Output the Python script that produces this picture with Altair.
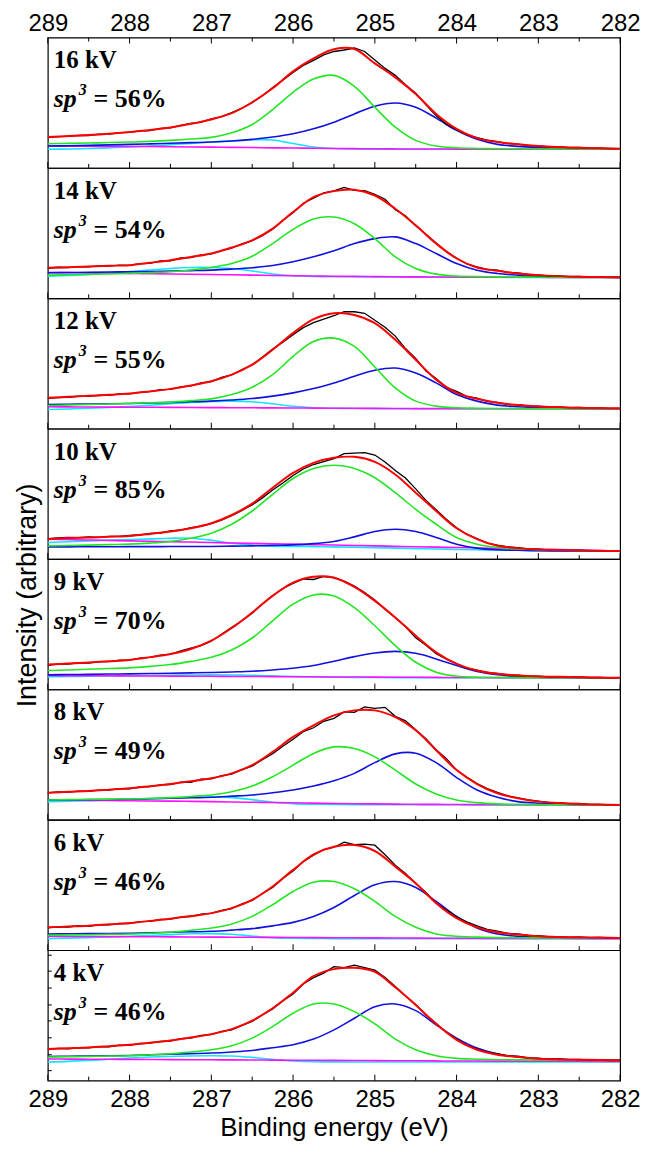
import altair as alt
import pandas as pd

E_FIT = [289.0, 288.75, 288.5, 288.25, 288.0, 287.75, 287.5, 287.25, 287.0, 286.75,
         286.5, 286.25, 286.0, 285.75, 285.5, 285.25, 285.0, 284.75, 284.5, 284.25,
         284.0, 283.75, 283.5, 283.25, 283.0, 282.75, 282.5, 282.25, 282.0]

E_RAW = [289.0, 288.875, 288.75, 288.625, 288.5, 288.375, 288.25, 288.125,
         288.0, 287.875, 287.75, 287.625, 287.5, 287.375, 287.25, 287.125,
         287.0, 286.875, 286.75, 286.625, 286.5, 286.375, 286.25, 286.125,
         286.0, 285.875, 285.75, 285.625, 285.5, 285.375, 285.25, 285.125,
         285.0, 284.875, 284.75, 284.625, 284.5, 284.375, 284.25, 284.125,
         284.0, 283.875, 283.75, 283.625, 283.5, 283.375, 283.25, 283.125,
         283.0, 282.875, 282.75, 282.625, 282.5, 282.375, 282.25, 282.125, 282.0]

VOLTAGES = ["16 kV", "14 kV", "12 kV", "10 kV", "9 kV", "8 kV", "6 kV", "4 kV"]
SP3_SHARES = ["56%", "54%", "55%", "85%", "70%", "49%", "46%", "46%"]
X_LABEL_VALUES = [289, 288, 287, 286, 285, 284, 283, 282]
X_MINOR_VALUES = [288.5, 287.5, 286.5, 285.5, 284.5, 283.5, 282.5]
Y_TICKS_4KV = [10, 26, 43, 60, 76, 93, 110, 126]

# 16 kV
RAW_16 = [30.5, 31.5, 31.8, 32.8, 32.6, 33.9, 34.0, 35.4,
          35.8, 37.3, 37.6, 39.8, 40.2, 42.8, 44.8, 46.0,
          49.2, 51.5, 55.5, 60.0, 65.5, 72.5, 80.8, 88.0,
          96.0, 103.0, 108.0, 113.5, 117.0, 118.5, 120.5, 117.0,
          108.5, 100.0, 93.0, 83.5, 75.0, 63.5, 52.5, 44.0,
          38.5, 33.5, 30.5, 28.0, 26.5, 24.5, 24.0, 22.5,
          22.3, 21.2, 21.3, 20.4, 20.6, 19.8, 19.9, 19.3, 19.5]
FIT_16 = [31, 32, 33, 34.3, 36, 38, 40.7, 44.3, 48.7, 55, 66, 80, 97, 110, 119.3,
          119.5, 105, 91, 74.3, 54.3, 39.3, 30, 26, 23.7, 22, 21, 20.3, 19.7, 19.3]
SP3_16 = [24.3, 24.7, 25, 25.5, 26, 26.7, 27.7, 29, 30.7, 35.3, 43.7, 58.7, 76, 89.3, 93,
          82, 61, 41, 27.7, 22, 20.2, 19.6, 19.3, 19.2, 19.1, 19, 19, 19, 19]
SP2_16 = [22, 22.3, 22.7, 23.2, 23.7, 24.2, 24.8, 25.4, 26, 27, 28.7, 31, 34.3, 39.3, 46,
          54.3, 62, 65.3, 61, 50, 37.7, 28.7, 23.7, 21.7, 20.7, 20.2, 19.7, 19.5, 19.3]
CO_16 = [18.7, 19, 19.5, 20.2, 21, 22, 23.3, 24.7, 26, 27.3, 28.3, 28, 24.5, 21, 19.5,
         19, 18.9, 18.9, 18.8, 18.8, 18.8, 18.7, 18.7, 18.7, 18.7, 18.7, 18.7, 18.7, 18.7]
BG_16 = [22, 21.9, 21.8, 21.7, 21.6, 21.5, 21.3, 21.1, 20.9, 20.7, 20.5, 20.2, 20, 19.8, 19.6,
         19.4, 19.2, 19.1, 19, 19, 18.9, 18.9, 18.8, 18.8, 18.8, 18.7, 18.7, 18.7, 18.7]

# 14 kV
RAW_14 = [30.2, 31.2, 30.9, 31.9, 31.6, 32.6, 32.3, 33.4,
          33.2, 34.8, 35.2, 37.5, 37.6, 40.5, 40.8, 43.7,
          44.6, 48.0, 50.4, 54.8, 58.0, 63.0, 69.5, 78.5,
          86.0, 95.5, 100.5, 106.0, 108.0, 111.5, 108.5, 108.3,
          104.5, 99.5, 89.0, 83.0, 73.0, 64.5, 55.5, 47.0,
          40.5, 34.5, 31.5, 29.0, 28.2, 26.0, 25.5, 24.0,
          23.6, 22.5, 22.6, 21.8, 21.9, 21.3, 21.5, 21.0, 21.2]
FIT_14 = [30.7, 31.3, 32, 32.7, 33.3, 35.7, 38.3, 41.5, 45, 51, 58.3, 70, 86.7, 101.7, 107.7,
          109, 103.3, 90, 73.3, 55, 40, 31, 27.7, 25, 23.3, 22.3, 21.7, 21.3, 21]
SP3_14 = [23.3, 23.7, 24.1, 24.5, 25, 25.8, 26.7, 28.5, 31, 35, 42.3, 55, 69.3, 79.7, 81.7,
          75, 60, 41.7, 30, 24.3, 22.3, 21.8, 21.5, 21.3, 21.2, 21.1, 21, 21, 21]
SP2_14 = [25.7, 25.9, 26.1, 26.4, 26.7, 27, 27.4, 27.8, 28.3, 29.3, 30.7, 33, 36.7, 41.7, 47.7,
          55, 60, 61.7, 55, 45, 35, 28.3, 25, 23.3, 22.3, 22, 21.7, 21.3, 21]
CO_14 = [22.3, 23, 24, 25.5, 27, 28.5, 30, 31, 31, 30, 27.5, 24.5, 22.7, 22, 21.7,
         21.6, 21.5, 21.4, 21.3, 21.2, 21.2, 21.1, 21.1, 21, 21, 21, 21, 21, 21]
BG_14 = [26, 25.8, 25.6, 25.4, 25.1, 24.8, 24.5, 24.2, 23.9, 23.6, 23.3, 23, 22.7, 22.4, 22.2,
         22, 21.8, 21.6, 21.5, 21.4, 21.3, 21.2, 21.2, 21.1, 21.1, 21, 21, 21, 21]

# 12 kV
RAW_12 = [30.5, 31.3, 31.6, 32.6, 32.4, 33.6, 33.5, 34.9,
          35.0, 36.6, 37.2, 39.2, 39.5, 42.0, 43.0, 46.0,
          47.2, 51.5, 54.0, 59.5, 64.0, 72.0, 80.0, 87.0,
          94.5, 101.5, 106.5, 110.0, 113.5, 117.5, 117.5, 116.0,
          109.0, 102.0, 93.0, 80.5, 70.5, 58.0, 50.5, 41.5,
          37.5, 32.5, 30.8, 27.5, 26.5, 24.5, 24.2, 22.8,
          22.7, 21.9, 22.0, 21.2, 21.3, 20.7, 21.0, 20.4, 20.6]
FIT_12 = [31, 32, 33, 34, 35.3, 37.5, 40, 43.5, 47.7, 54.3, 64.3, 79.3, 96, 110, 116,
          114.3, 106, 89.3, 69.3, 49.3, 36, 30, 26, 23.7, 22.3, 21.7, 21, 20.7, 20.3]
SP3_12 = [23.3, 23.8, 24.3, 24.8, 25.3, 26, 26.7, 28.2, 30, 34.3, 41.7, 54.3, 72.7, 87.7, 91,
          82.7, 62, 41, 27.7, 22.7, 21, 20.6, 20.3, 20.2, 20.1, 20, 20, 20, 20]
SP2_12 = [24.3, 24.5, 24.8, 25, 25.3, 25.8, 26.3, 27, 27.7, 28.8, 30.3, 32.7, 36, 40.3, 46,
          52.7, 58.7, 61, 56, 46, 34.3, 27.7, 23.7, 22, 21, 20.6, 20.3, 20.1, 20]
CO_12 = [19.3, 19.8, 20.5, 21.3, 22.3, 23.5, 25, 26.3, 27.3, 27.7, 27, 25, 22.5, 21, 20.5,
         20.3, 20.2, 20.1, 20, 20, 20, 20, 20, 20, 20, 20, 20, 20, 20]
BG_12 = [22, 21.9, 21.8, 21.7, 21.6, 21.5, 21.4, 21.3, 21.2, 21.1, 21, 20.9, 20.8, 20.7, 20.6,
         20.5, 20.4, 20.3, 20.2, 20.2, 20.1, 20.1, 20, 20, 20, 20, 20, 20, 20]

# 10 kV
RAW_10 = [20.5, 21.2, 21.8, 21.5, 22.2, 21.9, 22.8, 22.8,
          23.8, 24.2, 25.8, 26.2, 28.3, 29.2, 31.5, 33.2,
          35.5, 39.0, 43.5, 49.0, 54.5, 61.5, 69.5, 76.5,
          84.0, 90.5, 95.0, 98.0, 101.0, 106.0, 106.5, 107.0,
          104.5, 97.5, 89.0, 81.5, 70.5, 59.0, 49.5, 40.0,
          31.5, 25.0, 20.5, 16.0, 14.0, 12.3, 11.5, 10.3,
          10.0, 9.3, 9.4, 8.8, 8.9, 8.4, 8.5, 8.1, 8.2]
FIT_10 = [20, 21.3, 21.7, 22.5, 23.3, 25.3, 27.7, 31, 36, 44.3, 55.7, 71.7, 86.7, 96.7, 101.7,
          102.7, 97.7, 85, 66.7, 48.3, 31, 20, 13.3, 11, 9.7, 9.2, 8.7, 8.3, 8]
SP3_10 = [13.3, 13.6, 14, 14.5, 15, 16, 17.7, 21, 26, 35, 48.3, 65, 81, 91, 94.3,
          91, 81.7, 66.7, 50, 35, 21.7, 15, 11.7, 10.3, 9.5, 9, 8.6, 8.3, 8]
SP2_10 = [12.3, 12.3, 12.4, 12.4, 12.5, 12.5, 12.6, 12.6, 12.7, 13, 13.3, 13.8, 14.3, 15.5, 17.7,
          22.3, 27.7, 30, 27.7, 21.7, 15, 11, 9.3, 8.8, 8.3, 8.2, 8.1, 8, 8]
CO_10 = [16.7, 17.5, 18.3, 19, 19.7, 20.3, 21, 21, 19, 16, 14, 13, 12.7, 12.5, 12.3,
         11.9, 11.5, 11, 10.5, 10.1, 9.7, 9.3, 9, 8.8, 8.5, 8.3, 8.2, 8.1, 8]
BG_10 = [20, 19.6, 19.2, 18.7, 18.3, 17.9, 17.5, 17.1, 16.6, 16.2, 15.8, 15.4, 15, 14.5, 14.1,
         13.7, 13.3, 12.8, 12.4, 12, 11.6, 11.2, 10.7, 10.3, 9.9, 9.5, 9.1, 8.6, 8.2]

# 9 kV
RAW_9 = [24.3, 25.5, 25.6, 26.8, 26.6, 28.0, 28.0, 29.5,
         29.5, 31.5, 32.2, 34.5, 35.3, 38.8, 41.5, 44.0,
         48.5, 55.5, 62.5, 69.0, 76.5, 86.0, 94.5, 101.5,
         106.5, 111.0, 110.5, 113.5, 112.5, 109.0, 104.0, 97.5,
         90.0, 80.5, 72.0, 63.0, 52.0, 44.5, 36.0, 30.5,
         26.0, 21.5, 19.5, 17.0, 16.2, 14.6, 14.4, 13.3,
         13.3, 12.6, 12.9, 12.2, 12.5, 11.9, 12.2, 11.6, 11.9]
FIT_9 = [25, 26, 27, 28.3, 29.7, 32.5, 35.7, 40.7, 49, 61.7, 77.3, 94, 107.3, 113.3, 112.3,
         103, 89, 72.3, 54, 37.3, 25.7, 19, 15.7, 14, 13, 12.7, 12.3, 12, 11.7]
SP3_9 = [19, 19.6, 20.3, 21, 21.7, 23.2, 25, 28.2, 32.3, 39.7, 51.7, 69, 85.7, 95, 94,
         82.3, 64, 44, 27.3, 17.3, 13.3, 12.3, 12, 11.9, 11.8, 11.8, 11.7, 11.7, 11.7]
SP2_9 = [14.7, 15, 15.2, 15.5, 15.7, 16, 16.3, 16.7, 17, 17.6, 18.3, 19.6, 21.3, 24, 28.3,
         33, 36.7, 38.3, 36.3, 30.7, 24, 18, 14.7, 13, 12.3, 12, 11.9, 11.8, 11.7]
CO_9 = [12.7, 13, 13.2, 13.5, 13.7, 14, 14.3, 14.5, 14.7, 14.6, 14.3, 13.7, 13, 12.6, 12.3,
        12.1, 12, 11.9, 11.9, 11.8, 11.8, 11.8, 11.7, 11.7, 11.7, 11.7, 11.7, 11.7, 11.7]
BG_9 = [14, 13.9, 13.8, 13.7, 13.6, 13.5, 13.4, 13.3, 13.2, 13.1, 13, 12.9, 12.8, 12.7, 12.6,
        12.5, 12.4, 12.3, 12.2, 12.1, 12, 12, 11.9, 11.9, 11.8, 11.8, 11.7, 11.7, 11.7]

# 8 kV
RAW_8 = [27.0, 28.0, 27.8, 28.9, 28.6, 29.9, 29.8, 31.3,
         31.2, 33.0, 33.3, 35.2, 35.4, 37.8, 37.6, 40.8,
         41.2, 44.5, 46.0, 50.5, 54.0, 60.5, 66.5, 74.0,
         81.0, 88.5, 92.5, 99.0, 102.0, 108.5, 108.0, 113.5,
         112.0, 113.0, 104.0, 99.5, 90.5, 81.5, 70.5, 61.5,
         50.0, 43.0, 36.5, 31.5, 27.5, 24.0, 22.0, 20.0,
         18.8, 17.5, 17.4, 16.3, 16.4, 15.5, 15.6, 15.0, 15.2]
FIT_8 = [27.3, 28.2, 29, 30.3, 31.7, 33.8, 36, 38.7, 41.7, 46.7, 55, 68.3, 83.3, 95, 105,
         110, 110, 103.3, 90, 70, 50, 36, 26.7, 21.7, 18.3, 17, 16, 15.3, 15]
SP3_8 = [20, 20.3, 20.5, 20.8, 21, 21.6, 22.3, 23.5, 25, 28.3, 34, 43.3, 55, 66.7, 73.3,
         71.7, 63.3, 50, 36, 26, 20, 17.3, 16, 15.6, 15.3, 15.2, 15.1, 15, 15]
SP2_8 = [20, 20.2, 20.3, 20.5, 20.7, 21.2, 21.7, 22.2, 22.7, 23.8, 25, 27.2, 30, 34, 39.3,
         46.7, 57.5, 66.3, 67, 57.5, 42.5, 30, 22.7, 18.3, 16.7, 16, 15.3, 15.1, 15]
CO_8 = [18.3, 18.8, 19.3, 19.9, 20.5, 21.2, 22, 22.7, 23, 22.3, 20.3, 17.7, 16.3, 15.7, 15.4,
        15.3, 15.2, 15.2, 15.1, 15.1, 15.1, 15, 15, 15, 15, 15, 15, 15, 15]
BG_8 = [20, 19.8, 19.6, 19.4, 19.2, 19, 18.8, 18.6, 18.3, 18, 17.7, 17.4, 17.1, 16.8, 16.5,
        16.2, 16, 15.8, 15.6, 15.5, 15.4, 15.3, 15.2, 15.2, 15.1, 15.1, 15, 15, 15]

# 6 kV
RAW_6 = [22.5, 23.5, 23.3, 24.6, 24.0, 25.6, 25.5, 27.0,
         26.8, 28.8, 29.0, 31.0, 31.2, 33.3, 33.8, 36.3,
         37.0, 40.0, 41.8, 46.5, 50.0, 57.0, 63.0, 72.0,
         79.5, 89.0, 95.5, 101.0, 103.5, 108.5, 106.0, 106.5,
         105.5, 96.0, 85.5, 77.0, 67.0, 58.0, 47.5, 40.5,
         33.5, 28.5, 24.5, 21.0, 19.2, 17.0, 16.5, 14.8,
         14.6, 13.6, 13.7, 13.0, 13.2, 12.6, 12.9, 12.3, 12.5]
FIT_6 = [23, 23.8, 24.7, 26, 27.3, 29.5, 31.7, 34.3, 37.3, 42.3, 50.7, 64, 80.7, 96.3, 104,
         105.7, 99.7, 84, 67.3, 47.3, 32.3, 23, 18, 15.7, 14, 13.3, 13, 12.7, 12.3]
SP3_6 = [15, 15.3, 15.6, 16, 16.3, 17.1, 18, 20, 22.3, 26.3, 34, 45.7, 59, 68.3, 69,
         61.7, 49, 34, 23, 16.3, 14, 13.2, 12.7, 12.5, 12.4, 12.3, 12.3, 12.3, 12.3]
SP2_6 = [16.3, 16.5, 16.7, 16.8, 17, 17.5, 18, 18.5, 19, 20.2, 21.7, 24.5, 28, 34, 43,
         55, 65.7, 69, 63, 49, 34, 22.3, 16.3, 14, 13, 12.8, 12.7, 12.5, 12.3]
CO_6 = [11.7, 12.2, 12.7, 13.3, 14, 14.8, 15.7, 16.5, 16.7, 16, 14.3, 12.7, 12, 11.8, 11.7,
        11.7, 11.7, 11.7, 11.7, 11.7, 11.7, 11.7, 11.7, 11.7, 11.7, 11.7, 11.7, 11.7, 11.7]
BG_6 = [14, 13.9, 13.8, 13.7, 13.6, 13.5, 13.4, 13.3, 13.2, 13.1, 13, 12.9, 12.8, 12.7, 12.6,
        12.5, 12.4, 12.3, 12.2, 12.1, 12, 12, 11.9, 11.9, 11.8, 11.8, 11.7, 11.7, 11.7]

# 4 kV
RAW_4 = [31.2, 32.3, 32.0, 33.2, 32.8, 34.2, 34.0, 35.6,
         35.5, 37.3, 37.6, 39.5, 39.8, 42.2, 42.8, 45.5,
         46.2, 49.5, 51.0, 55.5, 59.5, 66.0, 72.0, 80.0,
         87.0, 97.0, 103.5, 108.0, 114.5, 113.5, 116.0, 113.5,
         111.0, 103.5, 94.5, 85.0, 76.5, 66.0, 57.5, 48.5,
         42.0, 35.5, 32.0, 28.5, 27.0, 24.8, 24.5, 22.8,
         22.6, 21.5, 21.7, 21.0, 21.2, 20.6, 20.9, 20.2, 20.5]
FIT_4 = [31.7, 32.5, 33.3, 34.6, 36, 38, 40.3, 43.3, 46.7, 51.7, 60.3, 72.7, 88.3, 105, 112,
         113.3, 109.3, 93.7, 76, 57, 41, 31, 26, 23.7, 22, 21.3, 21, 20.7, 20.3]
SP3_4 = [23.7, 24, 24.3, 24.7, 25, 26, 27, 28.8, 31, 35, 42.7, 54.3, 67.7, 77, 77,
         69.3, 57, 41.7, 31, 25, 22.3, 21.5, 21, 20.8, 20.6, 20.5, 20.4, 20.3, 20.3]
SP2_4 = [24.3, 24.5, 24.8, 25, 25.3, 25.9, 26.5, 27.1, 27.7, 28.8, 30.3, 33, 36, 41.7, 51,
         62.7, 74.3, 77, 70.3, 56, 42.7, 32.7, 26.7, 23.7, 22, 21.5, 21, 20.7, 20.3]
CO_4 = [18.7, 19.3, 20.3, 21.5, 22.7, 23.7, 24.3, 24.8, 25, 24.7, 23.3, 21.3, 19.7, 19, 18.8,
        18.7, 18.7, 18.7, 18.7, 18.7, 18.7, 18.7, 18.7, 18.7, 18.7, 18.7, 18.7, 18.7, 18.7]
BG_4 = [21.7, 21.6, 21.5, 21.4, 21.3, 21.2, 21.1, 21, 20.9, 20.8, 20.7, 20.6, 20.5, 20.4, 20.3,
        20.2, 20.1, 20, 19.9, 19.8, 19.7, 19.7, 19.6, 19.5, 19.5, 19.4, 19.4, 19.3, 19.3]

SERIES = [
    (RAW_16, FIT_16, SP3_16, SP2_16, CO_16, BG_16),
    (RAW_14, FIT_14, SP3_14, SP2_14, CO_14, BG_14),
    (RAW_12, FIT_12, SP3_12, SP2_12, CO_12, BG_12),
    (RAW_10, FIT_10, SP3_10, SP2_10, CO_10, BG_10),
    (RAW_9, FIT_9, SP3_9, SP2_9, CO_9, BG_9),
    (RAW_8, FIT_8, SP3_8, SP2_8, CO_8, BG_8),
    (RAW_6, FIT_6, SP3_6, SP2_6, CO_6, BG_6),
    (RAW_4, FIT_4, SP3_4, SP2_4, CO_4, BG_4),
]

# ---------------- styling ----------------
W, H = 575, 131
SANS = "Liberation Sans"
SERIF = "Liberation Serif"
COL = {"CO": "#10e4ff", "BG": "#ff10ff", "SP2": "#1010e0", "SP3": "#22e622",
       "RAW": "#000000", "FIT": "#ff0000"}

x_scale = alt.Scale(domain=[282, 289], reverse=True, nice=False, zero=False)
y_scale = alt.Scale(domain=[0, H], nice=False, zero=False)


def x_axis_for(i):
    common = dict(values=X_LABEL_VALUES, format="d", labelFont=SANS, labelFontSize=24,
                  labelColor="black", labelFlush=False, ticks=False, tickSize=0,
                  domain=False, grid=False)
    if i == 0:
        return alt.Axis(orient="top", title=None, labelPadding=2, **common)
    if i == len(VOLTAGES) - 1:
        return alt.Axis(orient="bottom", title="Binding energy (eV)", titleFont=SANS,
                        titleFontSize=26, titleFontWeight="normal", titleColor="black",
                        titlePadding=3, labelPadding=7, **common)
    return None


def y_axis_for(i):
    if i == 4:
        return alt.Axis(labels=False, ticks=False, tickSize=0, domain=False, grid=False,
                        title="Intensity (arbitrary)", titleFont=SANS, titleFontSize=27,
                        titleFontWeight="normal", titleColor="black", titleAngle=270,
                        titleAlign="center", titleBaseline="middle", titleX=-20, titleY=36)
    return None


def panel(i):
    raw, fit, sp3, sp2, co, bg = SERIES[i]
    xe = alt.X("E:Q", scale=x_scale, axis=x_axis_for(i))
    ye = alt.Y("I:Q", scale=y_scale, axis=y_axis_for(i))
    layers = []
    for key, vals in [("CO", co), ("BG", bg), ("SP2", sp2), ("SP3", sp3)]:
        df = pd.DataFrame({"E": E_FIT, "I": vals})
        layers.append(alt.Chart(df).mark_line(color=COL[key], strokeWidth=1.6,
                                              interpolate="catmull-rom").encode(x=xe, y=ye))
    layers.append(alt.Chart(pd.DataFrame({"E": E_RAW, "I": raw}))
                  .mark_line(color=COL["RAW"], strokeWidth=1.3).encode(x=xe, y=ye))
    layers.append(alt.Chart(pd.DataFrame({"E": E_FIT, "I": fit}))
                  .mark_line(color=COL["FIT"], strokeWidth=2, interpolate="catmull-rom")
                  .encode(x=xe, y=ye))
    # inward ticks on the bottom border
    major = pd.DataFrame({"E": X_LABEL_VALUES})
    minor = pd.DataFrame({"E": X_MINOR_VALUES})
    layers.append(alt.Chart(major).mark_rule(color="black", strokeWidth=1)
                  .encode(x=xe, y=alt.value(H), y2=alt.value(H - 6)))
    layers.append(alt.Chart(minor).mark_rule(color="black", strokeWidth=1)
                  .encode(x=xe, y=alt.value(H), y2=alt.value(H - 4)))
    if i == 0:
        layers.append(alt.Chart(major).mark_rule(color="black", strokeWidth=1)
                      .encode(x=xe, y=alt.value(0), y2=alt.value(6)))
        layers.append(alt.Chart(minor).mark_rule(color="black", strokeWidth=1)
                      .encode(x=xe, y=alt.value(0), y2=alt.value(4)))
    if i == len(VOLTAGES) - 1:
        layers.append(alt.Chart(pd.DataFrame({"I": Y_TICKS_4KV}))
                      .mark_rule(color="black", strokeWidth=1)
                      .encode(y=ye, x=alt.value(0), x2=alt.value(4)))
    # annotations
    lab = pd.DataFrame({"t": [VOLTAGES[i]], "s": ["sp"], "n": ["3"],
                        "p": ["= " + SP3_SHARES[i]]})
    base = alt.Chart(lab)
    layers.append(base.mark_text(align="left", baseline="alphabetic", font=SERIF,
                                 fontSize=25, fontWeight="bold", color="black")
                  .encode(x=alt.value(6), y=alt.value(31), text="t:N"))
    layers.append(base.mark_text(align="left", baseline="alphabetic", font=SERIF,
                                 fontSize=26, fontWeight="bold", fontStyle="italic",
                                 color="black")
                  .encode(x=alt.value(6), y=alt.value(70), text="s:N"))
    layers.append(base.mark_text(align="left", baseline="alphabetic", font=SERIF,
                                 fontSize=16, fontWeight="bold", fontStyle="italic",
                                 color="black")
                  .encode(x=alt.value(31), y=alt.value(58), text="n:N"))
    layers.append(base.mark_text(align="left", baseline="alphabetic", font=SERIF,
                                 fontSize=26, fontWeight="bold", color="black")
                  .encode(x=alt.value(46), y=alt.value(70), text="p:N"))
    return alt.layer(*layers).properties(width=W, height=H)


chart = (
    alt.vconcat(*[panel(i) for i in range(len(VOLTAGES))], spacing=0, bounds="flush")
    .properties(padding={"left": 5, "top": 0, "right": 0, "bottom": 0}, background="white")
    .configure_view(stroke="black", strokeWidth=1.2)
)

chart.save("out.html", embed_options={"renderer": "svg", "actions": False})
